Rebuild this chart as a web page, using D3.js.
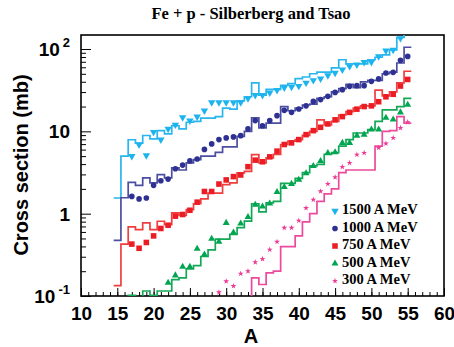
<!DOCTYPE html>
<html>
<head>
<meta charset="utf-8">
<script src="https://cdn.jsdelivr.net/npm/d3@7"></script>
<style>
body { margin: 0; background: #fff; }
</style>
</head>
<body>
<div id="chart"></div>
<script>
// mass number of the fragment (x categories)
const massNumbers = [15,16,17,18,19,20,21,22,23,24,25,26,27,28,29,30,31,32,33,34,35,
	36,37,38,39,40,41,42,43,44,45,46,47,48,49,50,51,52,53,54,55];

// cross sections in mb, one entry per mass number (null = no value)
const pts1500 = [null,null,5.0,6.9,5.1,9.8,7.9,10.7,12.0,14.8,13.5,15.1,17.8,22.4,22.4,22.4,22.4,22.4,25.1,27.5,27.5,
	29.5,31.6,33.9,34.7,35.5,38.9,41.7,43.7,47.9,51.3,56.2,61.7,64.6,69.2,69.2,81.3,95.5,97.7,135,null];
const hist1500 = [1.55,5.0,7.9,7.2,8.9,8.1,10.2,9.3,11.7,10.7,12.9,13.2,14.5,14.5,15.1,19.1,18.6,23.4,26.3,38.9,27.5,
	32.4,32.4,36.3,38.0,43.7,45.7,50.1,52.5,52.5,58.9,74.1,66.1,66.1,66.1,74.1,79.4,85.1,97.7,138,200];

const pts1000 = [null,null,1.62,1.51,1.55,2.21,2.51,2.63,3.51,3.89,4.37,4.62,6.03,7.03,7.94,8.32,8.55,8.87,10.7,13.5,11.7,
	13.5,15.5,18.0,17.0,18.7,20.4,23.1,24.3,26.6,29.7,32.1,35.2,35.9,35.9,40.5,43.3,51.2,52.1,72.8,81.3];
const hist1000 = [0.475,1.56,2.40,2.21,2.72,2.37,2.98,2.72,3.60,3.39,4.14,4.54,5.01,5.01,5.56,6.46,6.46,8.71,10.0,14.6,11.0,
	12.6,12.6,20.0,17.8,19.1,20.9,21.4,25.1,26.3,30.2,33.1,37.2,33.9,39.8,41.7,41.7,50.1,52.5,67.6,105];

const pts750 = [null,null,0.427,0.380,0.447,0.537,0.661,0.724,0.933,0.977,1.10,1.38,1.86,1.86,2.29,2.57,2.82,2.95,3.72,4.47,4.27,
	4.90,5.75,6.92,7.24,7.94,9.12,10.2,11.2,12.3,13.8,15.1,17.0,18.6,20.0,20.4,22.9,26.3,28.2,35.5,42.7];
const hist750 = [0.134,0.427,0.692,0.641,0.773,0.641,0.809,0.738,1.02,0.95,1.12,1.32,1.51,1.78,1.78,2.25,2.37,3.13,3.27,5.21,4.14,
	4.75,5.25,6.92,7.59,7.94,8.91,10.0,13.8,12.0,13.2,15.8,17.4,19.1,20.4,20.4,31.6,26.9,30.2,38.9,53.7];

const pts500 = [null,null,null,null,null,null,null,0.145,0.178,0.226,0.226,0.374,0.319,0.497,0.457,0.773,0.589,0.759,0.912,1.28,1.22,
	1.33,1.83,2.11,2.30,2.59,3.09,3.80,4.37,5.47,5.56,7.24,7.24,8.87,9.12,10.5,10.5,14.6,13.9,17.0,21.1];
const hist500 = [0.05,0.05,0.102,0.08,0.115,0.102,0.115,0.115,0.158,0.166,0.214,0.234,0.302,0.363,0.490,0.490,0.562,0.676,0.813,1.32,1.05,
	1.35,1.41,2.34,2.34,2.69,3.16,3.80,3.98,5.25,5.50,6.61,7.94,9.55,9.55,10.5,13.2,18.2,18.2,20.0,25.1];

const pts300 = [null,null,null,null,null,null,null,null,null,null,null,null,null,null,0.111,0.151,0.132,0.187,0.200,0.257,0.282,
	0.366,0.455,0.673,0.673,0.824,1.17,1.48,1.87,2.30,2.77,3.70,4.14,5.21,5.47,null,6.31,7.10,8.32,11.0,12.9];
const hist300 = [null,null,null,null,null,null,null,null,null,null,null,null,null,null,null,null,null,null,0.05,0.166,0.138,
	0.191,0.200,0.398,0.398,0.537,0.794,1.0,1.41,1.74,2.0,3.16,3.39,3.39,3.39,3.39,6.61,10.0,10.2,15.1,12.6];

const legendLabels = ['1500 A MeV', '1000 A MeV', '750 A MeV', '500 A MeV', '300 A MeV'];
const xTickLabels = [10,15,20,25,30,35,40,45,50,55,60];

const W = 454, H = 347;
const frame = { left: 81, right: 444, top: 35, bottom: 296 };

const series = [
	{ pts: pts1500, hist: hist1500, color: '#1db4ee', line: '#29b6ee', type: d3.symbolTriangle, size: 24, rot: 180 },
	{ pts: pts1000, hist: hist1000, color: '#2e3192', line: '#4b4ea1', type: d3.symbolCircle, size: 25, rot: 0 },
	{ pts: pts750, hist: hist750, color: '#ec1c24', line: '#ee3f3f', type: d3.symbolSquare, size: 31, rot: 0 },
	{ pts: pts500, hist: hist500, color: '#00a551', line: '#13a856', type: d3.symbolTriangle, size: 21, rot: 0 },
	{ pts: pts300, hist: hist300, color: '#ec3b95', line: '#ec4a9c', type: d3.symbolStar, size: 11, rot: 0 }
];

const x = d3.scaleLinear().domain([10, 60]).range([frame.left, frame.right]);
const y = d3.scaleLog().domain([0.1, 148]).range([frame.bottom, frame.top]);

const svg = d3.select('#chart').append('svg')
	.attr('width', W).attr('height', H)
	.style('font-family', "'Liberation Sans', Arial, sans-serif");

svg.append('defs').append('clipPath').attr('id', 'plot-clip')
	.append('rect')
	.attr('x', frame.left).attr('y', frame.top)
	.attr('width', frame.right - frame.left).attr('height', frame.bottom - frame.top);

// title
svg.append('text')
	.attr('x', 251).attr('y', 19)
	.attr('text-anchor', 'middle')
	.style('font-family', "'Liberation Serif', 'Times New Roman', serif")
	.style('font-weight', 'bold').style('font-size', '16.5px')
	.text('Fe + p - Silberberg and Tsao');

// frame
svg.append('rect')
	.attr('x', frame.left).attr('y', frame.top)
	.attr('width', frame.right - frame.left).attr('height', frame.bottom - frame.top)
	.attr('fill', 'none').attr('stroke', '#000').attr('stroke-width', 1.6);

// x ticks (inside, pointing up)
const xMinor = d3.range(10, 61, 1);
svg.append('g').attr('transform', `translate(0,${frame.bottom})`)
	.call(d3.axisBottom(x).tickValues(xMinor).tickSize(-4).tickFormat(''))
	.call(g => g.select('.domain').remove());
svg.append('g').attr('transform', `translate(0,${frame.bottom})`)
	.call(d3.axisBottom(x).tickValues(xTickLabels).tickSize(-8).tickPadding(11).tickFormat(d => d))
	.call(g => g.select('.domain').remove())
	.call(g => g.selectAll('text')
		.style('font-family', "'Liberation Sans', Arial, sans-serif")
		.style('font-weight', 'bold').style('font-size', '19px').attr('fill', '#000'));

// y ticks (inside, pointing right)
const yMinor = [];
[0.1, 1, 10, 100].forEach(dec => {
	for (let k = 2; k <= 9; k++) if (dec * k <= 148) yMinor.push(dec * k);
});
svg.append('g').attr('transform', `translate(${frame.left},0)`)
	.call(d3.axisLeft(y).tickValues(yMinor).tickSize(-5).tickFormat(''))
	.call(g => g.select('.domain').remove());
svg.append('g').attr('transform', `translate(${frame.left},0)`)
	.call(d3.axisLeft(y).tickValues([0.1, 1, 10, 100]).tickSize(-10).tickFormat(''))
	.call(g => g.select('.domain').remove());

// y tick labels, ROOT style 10^n
const yLabels = [
	{ v: 0.1, base: '10', exp: '-1' },
	{ v: 1, base: '1', exp: null },
	{ v: 10, base: '10', exp: null },
	{ v: 100, base: '10', exp: '2' }
];
yLabels.forEach(l => {
	const t = svg.append('text')
		.attr('x', 70).attr('y', y(l.v) + 7)
		.attr('text-anchor', 'end')
		.style('font-weight', 'bold').style('font-size', '19px')
		.text(l.base);
	if (l.exp) {
		t.append('tspan').attr('dx', 3).attr('dy', -9)
			.style('font-size', '13px').text(l.exp);
	}
});

// axis titles
svg.append('text')
	.attr('x', 251).attr('y', 343)
	.attr('text-anchor', 'middle')
	.style('font-weight', 'bold').style('font-size', '20px')
	.text('A');
svg.append('text')
	.attr('transform', 'translate(28,165) rotate(-90)')
	.attr('text-anchor', 'middle')
	.style('font-weight', 'bold').style('font-size', '20px')
	.text('Cross section (mb)');

// histograms (step outline)
const stepLine = d3.line()
	.defined(d => d.v != null)
	.x(d => x(d.a))
	.y(d => y(d.v));

const plot = svg.append('g').attr('clip-path', 'url(#plot-clip)');

series.forEach(s => {
	const steps = [];
	massNumbers.forEach((a, i) => {
		const v = s.hist[i];
		steps.push({ a: a - 0.5, v: v }, { a: a + 0.5, v: v });
	});
	plot.append('path')
		.attr('d', stepLine(steps))
		.attr('fill', 'none')
		.attr('stroke', s.line)
		.attr('stroke-width', 1.7);
});

// model points
series.forEach(s => {
	const sym = d3.symbol().type(s.type).size(s.size);
	plot.append('g').selectAll('path')
		.data(massNumbers.map((a, i) => ({ a: a, v: s.pts[i] })).filter(d => d.v != null))
		.enter()
		.append('path')
		.attr('d', sym)
		.attr('transform', d => `translate(${x(d.a)},${y(d.v)}) rotate(${s.rot})`)
		.attr('fill', s.color);
});

// legend
const legend = svg.append('g');
legendLabels.forEach((label, i) => {
	const s = series[i];
	const cy = 211 + i * 17.5;
	legend.append('path')
		.attr('d', d3.symbol().type(s.type).size(s.size))
		.attr('transform', `translate(335,${cy}) rotate(${s.rot})`)
		.attr('fill', s.color);
	legend.append('text')
		.attr('x', 342).attr('y', cy + 3)
		.style('font-family', "'Liberation Serif', 'Times New Roman', serif")
		.style('font-weight', 'bold').style('font-size', '14.5px')
		.text(label);
});
</script>
</body>
</html>
